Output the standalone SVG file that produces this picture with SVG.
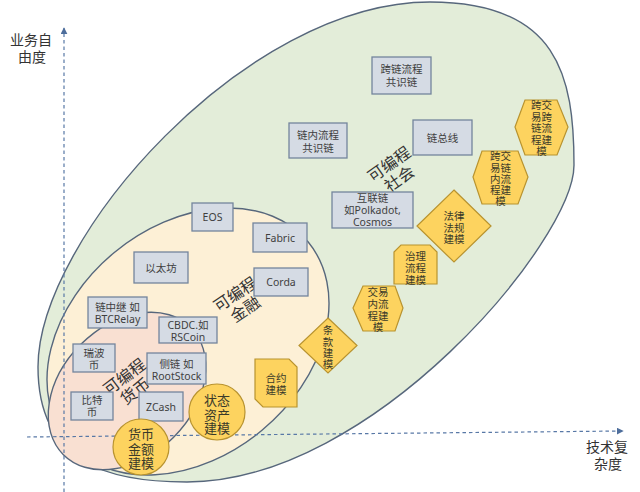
<svg xmlns="http://www.w3.org/2000/svg" width="640" height="492" viewBox="0 0 640 492">
<defs>
<marker id="arr" viewBox="0 0 10 10" refX="9" refY="5" markerWidth="7" markerHeight="7" orient="auto" markerUnits="userSpaceOnUse">
<path d="M0,0 L10,5 L0,10 Z" fill="#4e6e9c"/>
</marker>
<style>
.box{fill:#d5dbe4;stroke:#74859c;stroke-width:1.3}
.yel{fill:#fdd35f;stroke:#b8932f;stroke-width:1.2}
.t{font-family:"Noto Sans","Noto Sans CJK SC",sans-serif;font-size:10.5px;fill:#3f3f3f;text-anchor:middle;dominant-baseline:central}
.ty{font-family:"Noto Sans CJK SC",sans-serif;font-size:10.5px;fill:#3a3a2a;text-anchor:middle;dominant-baseline:central}
.tc{font-family:"Noto Sans CJK SC",sans-serif;font-size:13px;fill:#3a3a2a;text-anchor:middle;dominant-baseline:central}
.rl{font-family:"Noto Sans CJK SC",sans-serif;font-size:16px;fill:#333;text-anchor:middle;dominant-baseline:central}
.ax{font-family:"Noto Sans CJK SC",serif;font-size:14px;fill:#333}
.axis{stroke:#5878a6;stroke-width:1.2;stroke-dasharray:3.5 3;fill:none}
.reg{stroke:#57677c;stroke-width:1.4}
</style>
</defs>
<rect width="640" height="492" fill="#ffffff"/>

<g id="regions">
<path id="society" class="reg" fill="#e3edd9" d="M430,2 C558,2 574,76 574,165 C574,240 373,482 187,482 C114,482 38,467 38,367 C38,238 246,2 430,2 Z"/>
<ellipse id="finance" class="reg" fill="#fdf0d6" cx="188" cy="341.5" rx="156" ry="115.6" transform="rotate(-39.6 188 341.5)"/>
<ellipse id="currency" class="reg" fill="#f9e0d2" cx="127" cy="391" rx="90" ry="65.6" transform="rotate(-45 127 391)"/>
</g>

<g id="axes">
<line class="axis" x1="64" y1="492" x2="64" y2="28" marker-end="url(#arr)"/>
<line class="axis" x1="27" y1="437" x2="623" y2="431" marker-end="url(#arr)"/>
<text class="ax"><tspan x="10" y="45">业务自</tspan><tspan x="18" y="62">由度</tspan></text>
<text class="ax"><tspan x="586" y="452">技术复</tspan><tspan x="594" y="469">杂度</tspan></text>
</g>

<g id="region-labels">
<text class="rl" transform="translate(393.5,170.5) rotate(-35)"><tspan x="0" y="-9">可编程</tspan><tspan x="0" y="9">社会</tspan></text>
<text class="rl" transform="translate(239.5,300.8) rotate(-34)"><tspan x="0" y="-9">可编程</tspan><tspan x="0" y="9">金融</tspan></text>
<text class="rl" transform="translate(129,383) rotate(-37)"><tspan x="0" y="-9">可编程</tspan><tspan x="0" y="9">货币</tspan></text>
</g>

<g id="n-crosschain"><rect class="box" x="372" y="57" width="59" height="37"/><text class="t"><tspan x="401.5" y="69">跨链流程</tspan><tspan x="401.5" y="82">共识链</tspan></text></g>
<g id="n-inchain"><rect class="box" x="289" y="123" width="58" height="35"/><text class="t"><tspan x="318" y="134.5">链内流程</tspan><tspan x="318" y="147.5">共识链</tspan></text></g>
<g id="n-bus"><rect class="box" x="413" y="120" width="59" height="35"/><text class="t" x="442.5" y="137.5">链总线</text></g>
<g id="n-polkadot"><rect class="box" x="332" y="192" width="81" height="36"/><text class="t"><tspan x="372.5" y="198">互联链</tspan><tspan x="372.5" y="210">如Polkadot,</tspan><tspan x="372.5" y="222">Cosmos</tspan></text></g>
<g id="n-eos"><rect class="box" x="192" y="203" width="41" height="28"/><text class="t" x="212.5" y="217">EOS</text></g>
<g id="n-fabric"><rect class="box" x="253" y="223" width="54" height="29"/><text class="t" x="280" y="237.5">Fabric</text></g>
<g id="n-corda"><rect class="box" x="254" y="268" width="54" height="28"/><text class="t" x="281" y="282">Corda</text></g>
<g id="n-eth"><rect class="box" x="134" y="252" width="54" height="31"/><text class="t" x="161" y="267.5">以太坊</text></g>
<g id="n-btcrelay"><rect class="box" x="88" y="297" width="59" height="31"/><text class="t"><tspan x="117.5" y="306.5">链中继 如</tspan><tspan x="117.5" y="319">BTCRelay</tspan></text></g>
<g id="n-cbdc"><rect class="box" x="159" y="317" width="58" height="26"/><text class="t"><tspan x="188" y="324.5">CBDC.如</tspan><tspan x="188" y="336.5">RSCoin</tspan></text></g>
<g id="n-ripple"><rect class="box" x="73" y="344" width="42" height="28"/><text class="t"><tspan x="94" y="352.5">瑞波</tspan><tspan x="94" y="364.5">币</tspan></text></g>
<g id="n-rootstock"><rect class="box" x="147" y="353" width="59" height="31"/><text class="t"><tspan x="176.5" y="363.5">侧链 如</tspan><tspan x="176.5" y="375.5">RootStock</tspan></text></g>
<g id="n-bitcoin"><rect class="box" x="71" y="392" width="42" height="28"/><text class="t"><tspan x="92" y="400">比特</tspan><tspan x="92" y="412">币</tspan></text></g>
<g id="n-zcash"><rect class="box" x="139" y="392" width="44" height="29"/><text class="t" x="161" y="406.5">ZCash</text></g>

<g id="n-money"><circle class="yel" cx="141" cy="447" r="28"/><text class="tc"><tspan x="141" y="433">货币</tspan><tspan x="141" y="448">金额</tspan><tspan x="141" y="462">建模</tspan></text></g>
<g id="n-state"><circle class="yel" cx="217" cy="412" r="28"/><text class="tc"><tspan x="217" y="399">状态</tspan><tspan x="217" y="413.5">资产</tspan><tspan x="217" y="427">建模</tspan></text></g>
<g id="n-contract"><path class="yel" d="M255,359 H289 L297,367 V407 H263 L255,399 Z"/><text class="ty"><tspan x="276" y="377">合约</tspan><tspan x="276" y="389">建模</tspan></text></g>
<g id="n-clause"><path class="yel" d="M328,318 L357,345.5 L328,373 L299,345.5 Z"/><text class="ty"><tspan x="328" y="329">条</tspan><tspan x="328" y="340.5">款</tspan><tspan x="328" y="352">建</tspan><tspan x="328" y="363">模</tspan></text></g>
<g id="n-intratx"><path class="yel" d="M353,308 L363,286 L395,286 L403,308 L395,331 L363,331 Z"/><text class="ty"><tspan x="378" y="291">交易</tspan><tspan x="378" y="303">内流</tspan><tspan x="378" y="315">程建</tspan><tspan x="378" y="326">模</tspan></text></g>
<g id="n-governance"><path class="yel" d="M401,245 H430 L437,252 V284 H394 V252 Z"/><text class="ty"><tspan x="415.5" y="255">治理</tspan><tspan x="415.5" y="267">流程</tspan><tspan x="415.5" y="278.5">建模</tspan></text></g>
<g id="n-law"><path class="yel" d="M454,190 L491,226 L454,262 L417,226 Z"/><text class="ty"><tspan x="454" y="215">法律</tspan><tspan x="454" y="226.5">法规</tspan><tspan x="454" y="237.5">建模</tspan></text></g>
<g id="n-crosstx-inchain"><path class="yel" d="M473,177 L482,151 L518,151 L528,177 L518,204 L482,204 Z"/><text class="ty"><tspan x="500.5" y="155">跨交</tspan><tspan x="500.5" y="166.5">易链</tspan><tspan x="500.5" y="177.5">内流</tspan><tspan x="500.5" y="188.5">程建</tspan><tspan x="500.5" y="199.5">模</tspan></text></g>
<g id="n-crosstx-crosschain"><path class="yel" d="M515,127 L525,100 L557,100 L568,127 L557,155 L525,155 Z"/><text class="ty"><tspan x="541.5" y="104">跨交</tspan><tspan x="541.5" y="115.5">易跨</tspan><tspan x="541.5" y="127">链流</tspan><tspan x="541.5" y="138.5">程建</tspan><tspan x="541.5" y="150">模</tspan></text></g>
</svg>
